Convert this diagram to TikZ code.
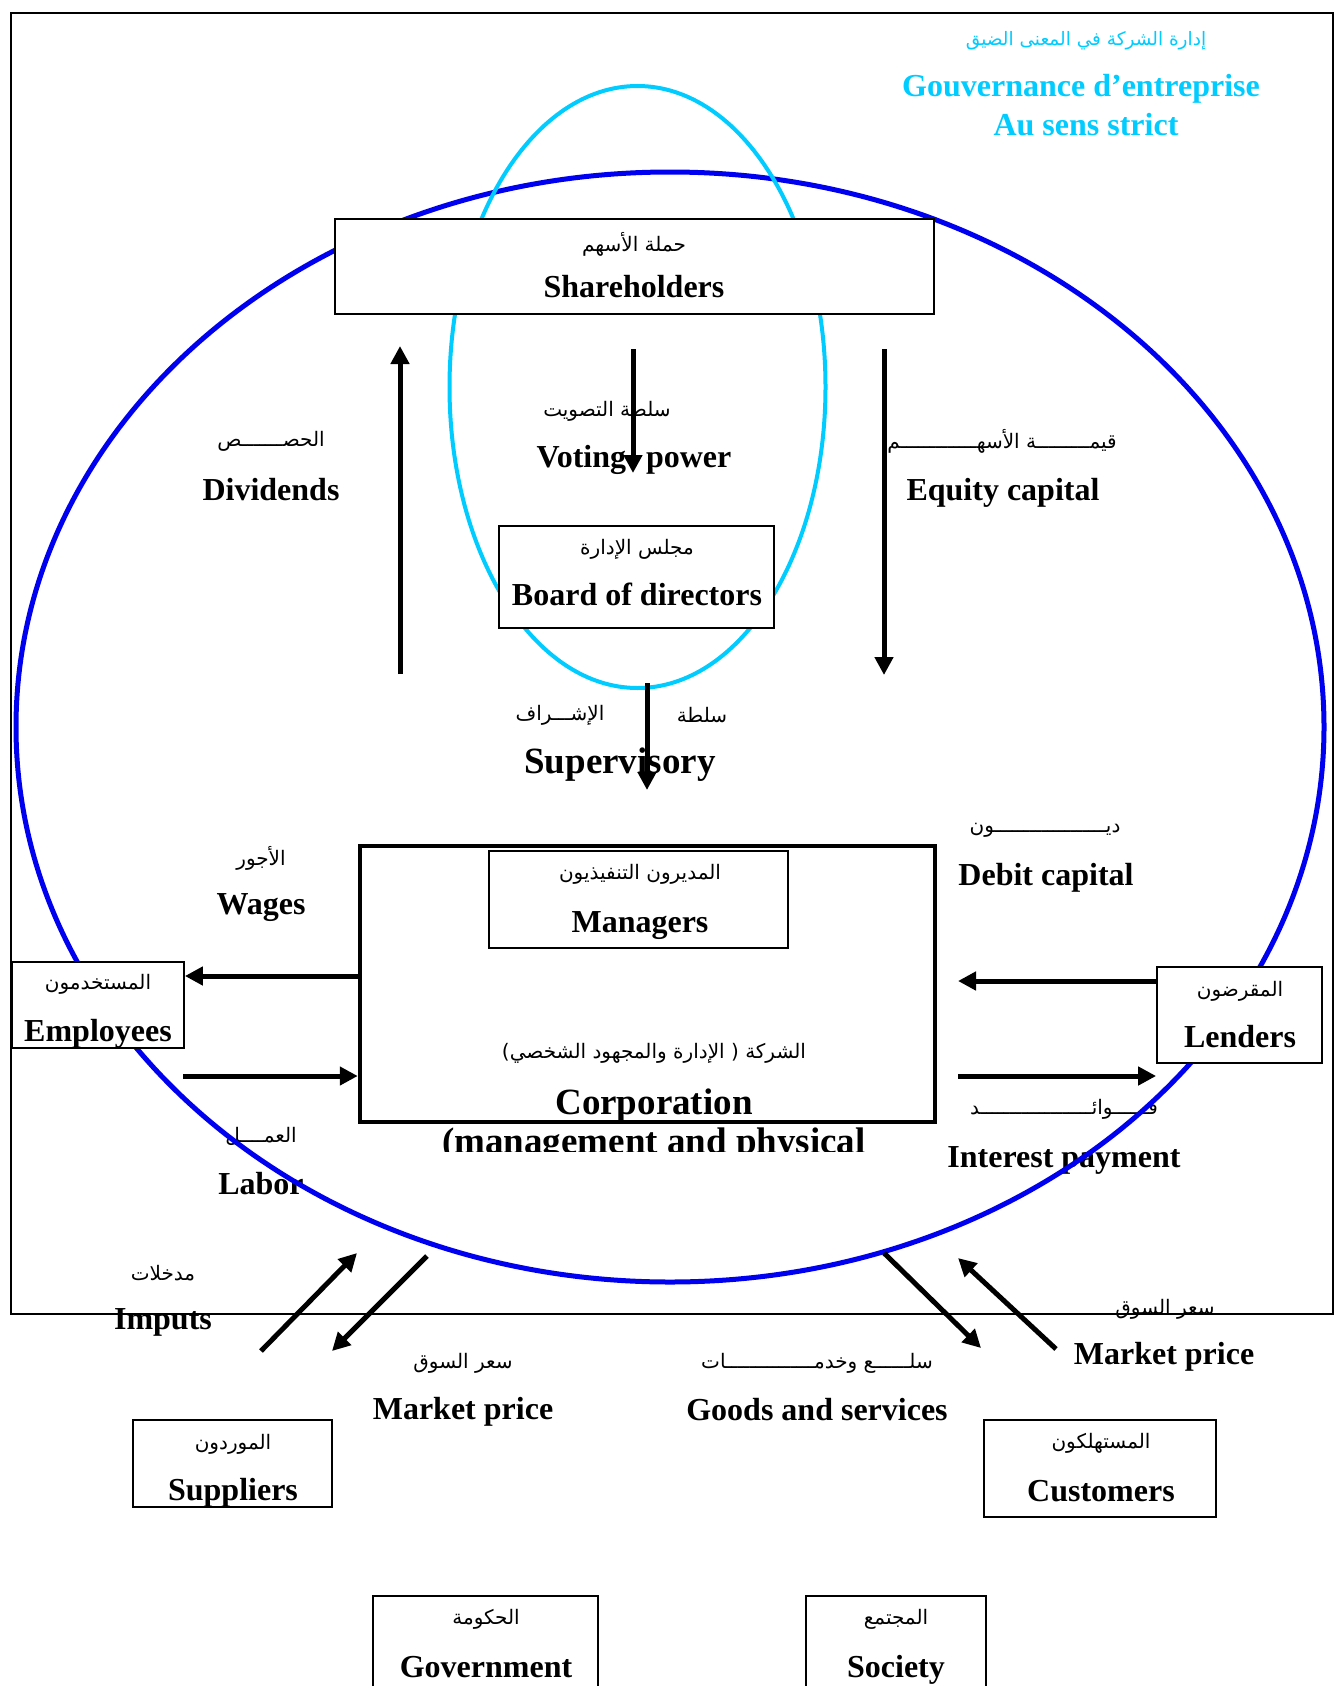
\documentclass[tikz,border=0pt]{standalone}
\usepackage{fontspec}
\setmainfont{Liberation Serif}
\newfontfamily\arabicfont[Script=Arabic]{DejaVu Sans}
\TeXXeTstate=1
\usetikzlibrary{arrows.meta}
\definecolor{ellblue}{RGB}{0,0,240}
\definecolor{ellcyan}{RGB}{0,204,255}
\newcommand{\artxt}[1]{{\arabicfont\fontsize{20}{24}\selectfont\beginR #1\endR}}
\newcommand{\artitle}[1]{{\arabicfont\fontsize{18.5}{22}\selectfont\beginR #1\endR}}
\begin{document}
\begin{tikzpicture}[x=1pt,y=-1pt,
  en/.style={font=\fontsize{32}{36}\selectfont\bfseries, inner sep=0pt, anchor=base},
  enbig/.style={font=\fontsize{37}{42}\selectfont\bfseries, inner sep=0pt, anchor=base},
  ar/.style={inner sep=0pt, anchor=center},
  box/.style={draw=black, line width=1.8pt, fill=white, inner sep=0pt},
  arr/.style={line width=5pt, -{Triangle[length=18pt,width=18pt]}},
]
\useasboundingbox[fill=white] (0,0) rectangle (1334,1686);

% ---------- labels ----------
\node[ar, text=ellcyan] (tAr) at (1086,41) {\artitle{إدارة الشركة في المعنى الضيق}};
\node[en, text=ellcyan] (tFr1) at (1081,96) {Gouvernance d’entreprise};
\node[en, text=ellcyan] (tFr2) at (1086,135) {Au sens strict};

\node[ar] (divAr) at (271,441) {\artxt{الحصـــــــص}};
\node[en] (divEn) at (271,500) {Dividends};
\node[ar] (voteAr) at (607,411) {\artxt{سلطة التصويت}};
\node[en] (voteEn) at (634,467) {Voting\hspace{12pt} power};
\node[ar] (eqAr) at (1002,441) {\artxt{قيمـــــــــة الأسهـــــــــــــم}};
\node[en] (eqEn) at (1003,500) {Equity capital};
\node[ar] (supAr1) at (560,715) {\artxt{الإشـــراف}};
\node[ar] (supAr2) at (702,715) {\artxt{سلطة}};
\node[enbig] (supEn) at (620,773) {Supervisory};
\node[ar] (wgAr) at (261,858) {\artxt{الأجور}};
\node[en] (wgEn) at (261,914) {Wages};
\node[ar] (lbAr) at (261,1136) {\artxt{العمــــل}};
\node[en] (lbEn) at (261,1194) {Labor};
\node[ar] (dbAr) at (1045,830) {\artxt{ديـــــــــــــــــــون}};
\node[en] (dbEn) at (1046,885) {Debit capital};
\node[ar] (inAr) at (1064,1109) {\artxt{فــــــوائـــــــــــــــــــد}};
\node[en] (inEn) at (1064,1167) {Interest payment};
\node[ar] (ipAr) at (163,1273) {\artxt{مدخلات}};
\node[en] (ipEn) at (163,1329) {Imputs};
\node[ar] (mlAr) at (463,1363) {\artxt{سعر السوق}};
\node[en] (mlEn) at (463,1419) {Market price};
\node[ar] (gsAr) at (817,1363) {\artxt{سلــــــع وخدمـــــــــــــــات}};
\node[en] (gsEn) at (817,1420) {Goods and services};
\node[ar] (mrAr) at (1165,1309) {\artxt{سعر السوق}};
\node[en] (mrEn) at (1164,1364) {Market price};

% ---------- frame and ellipses ----------
\draw[line width=1.6pt] (11,13) rectangle (1333,1314);
\draw[ellblue, line width=5pt] (670,727) ellipse [x radius=654pt, y radius=555pt];
\draw[ellcyan, line width=4pt] (637.5,387) ellipse [x radius=188pt, y radius=301pt];

% ---------- boxes ----------
\node[box, minimum width=599pt, minimum height=95pt] (sh) at (634.5,266.5) {};
\node[ar] (shAr) at (634,244) {\artxt{حملة الأسهم}};
\node[en] (shEn) at (634,297) {Shareholders};

\node[box, minimum width=275pt, minimum height=102pt] (bod) at (636.5,577) {};
\node[ar] (bodAr) at (637,549) {\artxt{مجلس الإدارة}};
\node[en] (bodEn) at (637,605) {Board of directors};

\node[box, line width=4.5pt, minimum width=575pt, minimum height=276pt] (corp) at (647.5,984) {};
\node[box, minimum width=299pt, minimum height=97pt] (mgr) at (638.5,899.5) {};
\node[ar] (mgrAr) at (640,874) {\artxt{المديرون التنفيذيون}};
\node[en] (mgrEn) at (640,932) {Managers};
\node[ar] (corpAr) at (654,1053) {\artxt{الشركة ( الإدارة والمجهود الشخصي)}};
\node[enbig] (corpEn) at (654,1114) {Corporation};
\begin{scope}
  \clip (300,1124) rectangle (1000,1151);
  \node[enbig] (corpEn2) at (654,1153) {(management and physical};
\end{scope}

\node[box, minimum width=172pt, minimum height=86pt] (emp) at (98,1005) {};
\node[ar] (empAr) at (98,984) {\artxt{المستخدمون}};
\node[en] (empEn) at (98,1041) {Employees};

\node[box, minimum width=165pt, minimum height=96pt] (len) at (1239.5,1015) {};
\node[ar] (lenAr) at (1240,991) {\artxt{المقرضون}};
\node[en] (lenEn) at (1240,1047) {Lenders};

\node[box, minimum width=199pt, minimum height=87pt] (sup) at (232.5,1463.5) {};
\node[ar] (supBAr) at (233,1444) {\artxt{الموردون}};
\node[en] (supBEn) at (233,1500) {Suppliers};

\node[box, minimum width=232pt, minimum height=97pt] (cus) at (1100,1468.5) {};
\node[ar] (cusAr) at (1101,1443) {\artxt{المستهلكون}};
\node[en] (cusEn) at (1101,1501) {Customers};

\node[box, minimum width=225pt, minimum height=110pt] (gov) at (485.5,1651) {};
\node[ar] (govAr) at (486,1619) {\artxt{الحكومة}};
\node[en] (govEn) at (486,1677) {Government};

\node[box, minimum width=180pt, minimum height=110pt] (soc) at (896,1651) {};
\node[ar] (socAr) at (896,1619) {\artxt{المجتمع}};
\node[en] (socEn) at (896,1677) {Society};

% ---------- arrows ----------
\coordinate (divS) at (400,674);  \coordinate (divE) at (400,346);
\coordinate (voS) at (633,349);   \coordinate (voE) at (633,473);
\coordinate (eqS) at (884,349);   \coordinate (eqE) at (884,675);
\coordinate (svS) at (647,683);   \coordinate (svE) at (647,790);
\coordinate (wgY) at (0,976);
\coordinate (lbS) at (183,1076);  \coordinate (lbY) at (0,1076);
\coordinate (dbY) at (0,981);     \coordinate (dbE) at (958,981);
\coordinate (inS) at (958,1076);  \coordinate (inY) at (0,1076);
\coordinate (ipS) at (261,1351);  \coordinate (ipE) at (357,1253);
\coordinate (mlS) at (427,1256);  \coordinate (mlE) at (332,1351);
\coordinate (gsS) at (884,1253);  \coordinate (gsE) at (981,1348);
\coordinate (mrS) at (1056,1349); \coordinate (mrE) at (958,1258);

\draw[arr] (divS) -- (divE);
\draw[arr] (voS) -- (voE);
\draw[arr] (eqS) -- (eqE);
\draw[arr] (svS) -- (svE);
\draw[arr] (corp.west |- wgY) -- (emp.east |- wgY);
\draw[arr] (lbS) -- (corp.west |- lbY);
\draw[arr] (len.west |- dbY) -- (dbE);
\draw[arr] (inS) -- (len.west |- inY);
\draw[arr] (ipS) -- (ipE);
\draw[arr] (mlS) -- (mlE);
\draw[arr] (gsS) -- (gsE);
\draw[arr] (mrS) -- (mrE);
\end{tikzpicture}
\end{document}
